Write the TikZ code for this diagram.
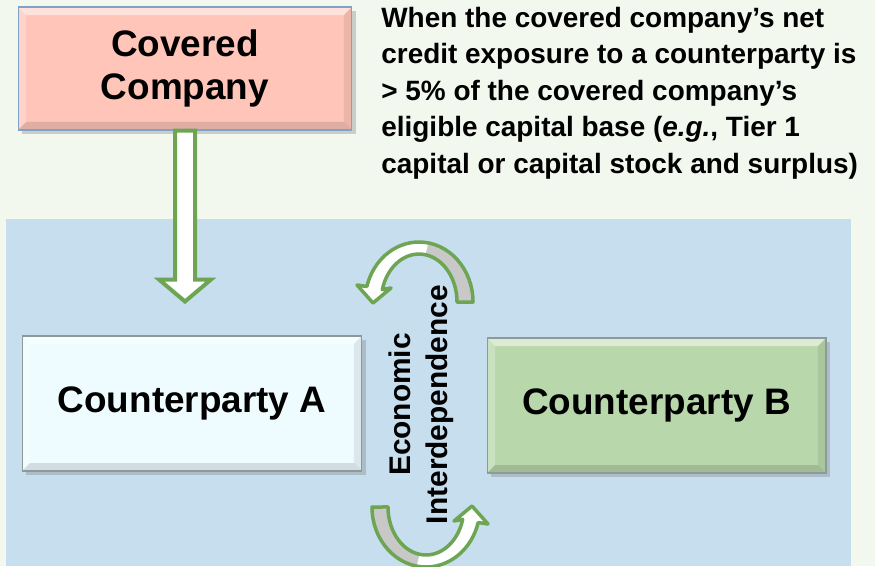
\documentclass[tikz,border=0pt]{standalone}
\usepackage{fontspec}
\setmainfont{Liberation Sans}
\usetikzlibrary{shadows}
\definecolor{pagebg}{HTML}{F3F8EF}
\definecolor{panelbg}{HTML}{C6DEEE}
\definecolor{coveredfill}{HTML}{FFC5B9}
\definecolor{coveredline}{HTML}{7FA3C8}
\definecolor{afill}{HTML}{EEFCFF}
\definecolor{bfill}{HTML}{B8D7AA}
\definecolor{boxline}{HTML}{8C9A9A}
\definecolor{arrowgreen}{HTML}{6DA553}
\definecolor{bandgrey}{HTML}{C8C8C8}

\begin{document}
\begin{tikzpicture}[x=0.02cm, y=-0.02cm,
    party/.style={draw=boxline, line width=0.6pt, align=center,
        font=\fontsize{21}{24}\selectfont\bfseries,
        drop shadow={opacity=0.35, shadow xshift=0.08cm, shadow yshift=-0.08cm},
        path picture={
            \coordinate (nw) at (path picture bounding box.north west);
            \coordinate (ne) at (path picture bounding box.north east);
            \coordinate (sw) at (path picture bounding box.south west);
            \coordinate (se) at (path picture bounding box.south east);
            \fill[white, opacity=0.5] (nw) -- (ne) -- ([xshift=-0.16cm, yshift=-0.16cm]ne) -- ([xshift=0.16cm, yshift=-0.16cm]nw) -- cycle;
            \fill[white, opacity=0.25] (nw) -- ([xshift=0.16cm, yshift=-0.16cm]nw) -- ([xshift=0.16cm, yshift=0.16cm]sw) -- (sw) -- cycle;
            \fill[black, opacity=0.08] (ne) -- ([xshift=-0.16cm, yshift=-0.16cm]ne) -- ([xshift=-0.16cm, yshift=0.16cm]se) -- (se) -- cycle;
            \fill[black, opacity=0.12] (sw) -- ([xshift=0.16cm, yshift=0.16cm]sw) -- ([xshift=-0.16cm, yshift=0.16cm]se) -- (se) -- cycle;
        }},
    hollow/.style={draw=arrowgreen, line width=0.08cm, fill=white, line join=miter},
    loop arrow/.pic={
        \fill[white] (50.5,-102.5) arc[start angle=0, end angle=-165, x radius=54, y radius=60]
            -- (-65.5,-119.5) -- (-49.5,-101.5) -- (-31.5,-116.5) -- (-40.2,-114.9)
            arc[start angle=-165, end angle=0, x radius=38, y radius=48] -- cycle;
        \fill[bandgrey] (50.5,-102.5) arc[start angle=0, end angle=-80, x radius=54, y radius=60]
            -- (3.1,-149.8) arc[start angle=-80, end angle=0, x radius=38, y radius=48] -- cycle;
        \draw[arrowgreen, line width=0.07cm, line join=round] (50.5,-102.5)
            arc[start angle=0, end angle=-165, x radius=54, y radius=60]
            -- (-65.5,-119.5) -- (-49.5,-101.5) -- (-31.5,-116.5) -- (-40.2,-114.9)
            arc[start angle=-165, end angle=0, x radius=38, y radius=48] -- cycle;
    }]
    \useasboundingbox (0,0) rectangle (875,566);
    \clip (0,0) rectangle (875,566);
    \fill[pagebg] (0,0) rectangle (875,566);
    \fill[panelbg] (6,219) rectangle (851,566);

    \node(cc)[party, draw=coveredline, fill=coveredfill, minimum width=6.68cm, minimum height=2.46cm] at (185,68.5) {Covered\\Company};
    \node(cpa)[party, fill=afill, minimum width=6.8cm, minimum height=2.7cm] at (192,403.5) {Counterparty A};
    \node(cpb)[party, fill=bfill, minimum width=6.78cm, minimum height=2.7cm] at (656.5,405.5) {Counterparty B};

    \node(note)[anchor=north west, inner sep=0pt, align=left, font=\fontsize{15.9}{20.7}\selectfont\bfseries] at (381,7)
        {When the covered company’s net\\credit exposure to a counterparty is\\> 5\% of the covered company’s\\eligible capital base (\textit{e.g.}, Tier 1\\capital or capital stock and surplus)};

    \coordinate(eco) at (422.5,404.5);
    \node(econ)[rotate=90, align=center, font=\fontsize{17}{21}\selectfont\bfseries] at (421,404.5) {Economic\\Interdependence};

    \draw[hollow] ([xshift=-0.2cm]cc.south) -- ++(0,149) -- ++(-16,0) -- ++(26,22)
        -- ++(26,-22) -- ++(-16,0) -- ++(0,-149) -- cycle;

    \pic at (eco) {loop arrow};
    \pic[rotate=180] at (eco) {loop arrow};
\end{tikzpicture}
\end{document}
